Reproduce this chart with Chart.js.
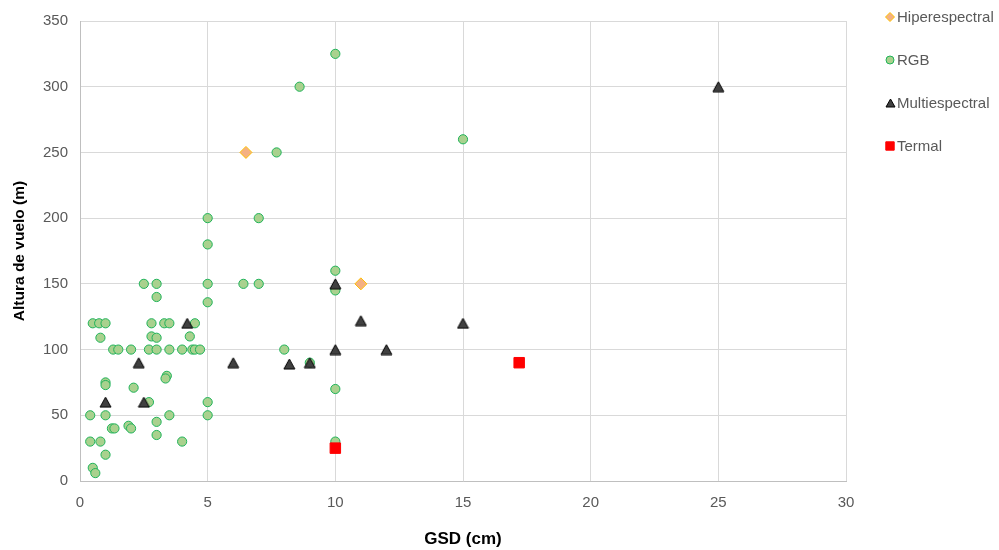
<!DOCTYPE html>
<html lang="es">
<head>
<meta charset="utf-8">
<title>Altura de vuelo vs GSD</title>
<script src="https://cdn.jsdelivr.net/npm/chart.js@4.4.1/dist/chart.umd.min.js"></script>
<style>
  html, body { margin: 0; padding: 0; background: #ffffff; }
  #wrap { width: 999px; height: 550px; }
</style>
</head>
<body>
<div id="wrap"><canvas id="chart" width="999" height="550"></canvas></div>
<script>
// Sensor types and their (GSD cm, flight altitude m) pairs
const seriesNames = ['Hiperespectral', 'RGB', 'Multiespectral', 'Termal'];

const hiperGsd = [6.5, 11];
const hiperAltura = [250, 150];

const rgbGsd = [
  2.5, 3, 5, 6.4, 7, 3, 5,
  0.5, 0.75, 1, 2.8, 3.3, 3.5, 4.5,
  0.8, 2.8, 3, 4.3,
  1.3, 1.5, 2, 2.7, 3, 3.5, 4, 4.4, 4.5, 4.7,
  3.4, 3.35, 1, 1, 2.1, 2.7, 5,
  0.4, 1, 3.5, 5,
  1.25, 1.35, 1.9, 2, 3, 3, 4, 0.4, 0.8, 1, 0.5, 0.6,
  10, 8.6, 15, 7.7, 5, 7, 5, 10, 10,
  8, 9, 10, 10
];
const rgbAltura = [
  150, 150, 150, 150, 150, 140, 136,
  120, 120, 120, 120, 120, 120, 120,
  109, 110, 109, 110,
  100, 100, 100, 100, 100, 100, 100, 100, 100, 100,
  80, 78, 75, 73, 71, 60, 60,
  50, 50, 50, 50,
  40, 40, 42, 40, 45, 35, 30, 30, 30, 20, 10, 6,
  325, 300, 260, 250, 200, 200, 180, 160, 145,
  100, 90, 70, 30
];

const multiGsd = [1, 2.3, 2.5, 4.2, 6, 8.2, 9, 10, 10, 11, 12, 15, 25];
const multiAltura = [60, 90, 60, 120, 90, 89, 90, 150, 100, 122, 100, 120, 300];

const termalGsd = [10, 17.2];
const termalAltura = [25, 90];

const xTickStep = 5;
const yTickStep = 50;

function toPoints(xs, ys) {
  return xs.map((x, i) => ({ x: x, y: ys[i] }));
}

const FONT = "'Liberation Sans', Arial, Helvetica, sans-serif";
const TEXT_GREY = '#595959';

// Triangle marker centred on its bounding box (used as a point image)
function triangleImage(w, h, fill, stroke) {
  const c = document.createElement('canvas');
  c.width = w + 2;
  c.height = h + 2;
  const g = c.getContext('2d');
  g.beginPath();
  g.moveTo(c.width / 2, 1);
  g.lineTo(c.width - 1, c.height - 1);
  g.lineTo(1, c.height - 1);
  g.closePath();
  g.fillStyle = fill;
  g.fill();
  g.lineWidth = 1;
  g.strokeStyle = stroke;
  g.stroke();
  return c;
}

const multiFill = '#404040';
const multiStroke = '#000000';
const triMarker = triangleImage(11, 10, multiFill, multiStroke);
const triLegend = triangleImage(9, 8, multiFill, multiStroke);

// Draws one legend key
function drawKey(ctx, ds, x, y) {
  ctx.save();
  if (ds.pointStyle instanceof HTMLCanvasElement) {
    ctx.drawImage(triLegend, Math.round(x - triLegend.width / 2), Math.round(y - triLegend.height / 2));
    ctx.restore();
    return;
  }
  ctx.beginPath();
  if (ds.pointStyle === 'circle') {
    ctx.arc(x, y, 4, 0, Math.PI * 2);
  } else if (ds.pointStyle === 'rectRot') {
    const r = 4.5;
    ctx.moveTo(x, y - r); ctx.lineTo(x + r, y); ctx.lineTo(x, y + r); ctx.lineTo(x - r, y);
    ctx.closePath();
  } else {
    ctx.rect(x - 4.2, y - 4.2, 8.4, 8.4);
  }
  ctx.fillStyle = ds.backgroundColor;
  ctx.fill();
  ctx.lineWidth = 1;
  ctx.strokeStyle = ds.borderColor;
  ctx.stroke();
  ctx.restore();
}

const sideLegend = {
  id: 'sideLegend',
  afterDraw(chart) {
    const ctx = chart.ctx;
    const x0 = 890, y0 = 17, step = 43;
    chart.data.datasets.forEach((ds, i) => {
      const y = y0 + i * step;
      drawKey(ctx, ds, x0, y);
      ctx.save();
      ctx.font = '15px ' + FONT;
      ctx.fillStyle = TEXT_GREY;
      ctx.textAlign = 'left';
      ctx.textBaseline = 'middle';
      ctx.fillText(ds.label, 897, y + 1);
      ctx.restore();
    });
  }
};

new Chart(document.getElementById('chart'), {
  type: 'scatter',
  data: {
    datasets: [
      {
        label: seriesNames[0],
        data: toPoints(hiperGsd, hiperAltura),
        pointStyle: 'rectRot',
        pointRadius: 6,
        pointHoverRadius: 6,
        backgroundColor: '#F4B183',
        borderColor: '#FFC000',
        borderWidth: 1,
        order: 1
      },
      {
        label: seriesNames[1],
        data: toPoints(rgbGsd, rgbAltura),
        pointStyle: 'circle',
        pointRadius: 4.6,
        pointHoverRadius: 4.6,
        backgroundColor: '#A9D18E',
        borderColor: '#1FB35A',
        borderWidth: 1,
        order: 4
      },
      {
        label: seriesNames[2],
        data: toPoints(multiGsd, multiAltura),
        pointStyle: triMarker,
        pointRadius: 6,
        pointHoverRadius: 6,
        backgroundColor: multiFill,
        borderColor: multiStroke,
        borderWidth: 1,
        order: 3
      },
      {
        label: seriesNames[3],
        data: toPoints(termalGsd, termalAltura),
        pointStyle: 'rect',
        pointRadius: 7.4,
        pointHoverRadius: 7.4,
        backgroundColor: '#FF0000',
        borderColor: '#FF0000',
        borderWidth: 1,
        order: 2
      }
    ]
  },
  options: {
    responsive: false,
    animation: false,
    devicePixelRatio: 1,
    layout: { padding: { top: 20, right: 153, bottom: 0, left: 0 } },
    plugins: {
      legend: { display: false },
      tooltip: { enabled: false }
    },
    scales: {
      x: {
        type: 'linear',
        min: 0,
        max: 30,
        ticks: { stepSize: xTickStep, color: TEXT_GREY, font: { family: FONT, size: 15 }, padding: 13 },
        grid: { color: '#d9d9d9', drawTicks: false, lineWidth: 1 },
        border: { color: '#bfbfbf', width: 1 },
        title: {
          display: true,
          text: 'GSD (cm)',
          color: '#000000',
          font: { family: FONT, size: 17, weight: 'bold' },
          padding: { top: 0, bottom: 0 }
        },
        afterFit(scale) { scale.height = 69; }
      },
      y: {
        type: 'linear',
        min: 0,
        max: 350,
        ticks: { stepSize: yTickStep, color: TEXT_GREY, font: { family: FONT, size: 15 }, padding: 12 },
        grid: { color: '#d9d9d9', drawTicks: false, lineWidth: 1 },
        border: { color: '#bfbfbf', width: 1 },
        title: {
          display: true,
          text: 'Altura de vuelo (m)',
          color: '#000000',
          font: { family: FONT, size: 15.5, weight: 'bold' },
          padding: { top: 10, bottom: 0 }
        },
        afterFit(scale) { scale.width = 80; }
      }
    }
  },
  plugins: [sideLegend]
});
</script>
</body>
</html>
